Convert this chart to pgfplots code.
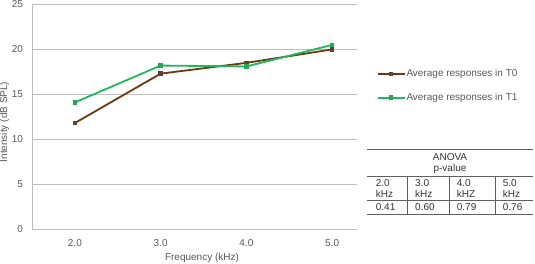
\documentclass[border=0pt]{standalone}
\usepackage{fontspec}
\setmainfont{Liberation Sans}
\usepackage{pgfplots}
\pgfplotsset{compat=1.18}
\definecolor{brownT}{HTML}{6B3A10}
\definecolor{brownM}{HTML}{5E4430}
\definecolor{greenT}{HTML}{1FB85C}
\definecolor{greenM}{HTML}{2AA35C}
\definecolor{gridc}{HTML}{BDBDBD}
\definecolor{txt}{HTML}{595959}
\definecolor{tabline}{HTML}{606060}
\begin{document}
\fontsize{10}{12}\selectfont
\begin{tikzpicture}
\path[use as bounding box] (0pt,0pt) rectangle (535pt,264pt);
\begin{axis}[
  at={(32pt,35pt)}, anchor=south west, scale only axis,
  width=325pt, height=224.5pt,
  xmin=-0.5, xmax=3.29, ymin=0, ymax=25,
  xtick={0,1,2,3}, xticklabels={2.0,3.0,4.0,5.0},
  ytick={0,5,10,15,20,25},
  ymajorgrids, grid style={gridc, line width=0.8pt},
  axis x line*=bottom, axis y line*=left,
  axis line style={gridc, line width=0.8pt},
  major tick length=0pt,
  /pgf/number format/assume math mode=true,
  ticklabel style={font=\fontsize{10}{12}\selectfont, text=txt},
  yticklabel style={xshift=-5.5pt},
  xticklabel style={yshift=-7pt},
  xlabel={Frequency (kHz)},
  xlabel style={at={(axis description cs:0.523,0)}, anchor=center, yshift=-29pt, font=\fontsize{10}{12}\selectfont, text=txt},
  legend cell align=left,
  legend style={draw=none, fill=none, inner sep=0pt, row sep=13pt,
    at={(axis description cs:1.060,0.715)}, anchor=north west,
    font=\fontsize{10}{12}\selectfont, text=txt,
    nodes={inner sep=1pt}},
  legend image code/.code={\draw[mark repeat=2,mark phase=2,#1] plot coordinates {(0pt,0pt) (13.5pt,0pt) (27pt,0pt)};},
]
\addplot[brownT, line width=1.8pt, mark=square*, mark size=1.8pt, mark options={fill=brownM, draw=brownM, line width=0pt}]
  coordinates {(0,11.8) (1,17.3) (2,18.5) (3,20.0)};
\addlegendentry{Average responses in T0}
\addplot[greenT, line width=1.8pt, mark=square*, mark size=1.8pt, mark options={fill=greenM, draw=greenM, line width=0pt}]
  coordinates {(0,14.1) (1,18.2) (2,18.1) (3,20.5)};
\addlegendentry{Average responses in T1}
\end{axis}
\node[rotate=90, anchor=base, text=txt, font=\fontsize{10}{12}\selectfont] at (7pt,142pt) {Intensity (dB SPL)};
% ANOVA table
\begin{scope}[tabline, line width=0.8pt]
\draw (367pt,114.7pt) -- (533pt,114.7pt);
\draw (367pt,88pt) -- (533pt,88pt);
\draw (367pt,63.3pt) -- (533pt,63.3pt);
\draw (367pt,49.7pt) -- (533pt,49.7pt);
\draw (407.7pt,88pt) -- (407.7pt,49.7pt);
\draw (449.3pt,88pt) -- (449.3pt,49.7pt);
\draw (495.7pt,88pt) -- (495.7pt,49.7pt);
\end{scope}
\begin{scope}[every node/.style={text=black!80, font=\fontsize{10}{12}\selectfont, inner sep=0pt}]
\node[anchor=base] at (450pt,103pt) {ANOVA};
\node[anchor=base] at (450pt,92.6pt) {p-value};
\node[anchor=base west] at (375.7pt,77.7pt) {2.0};
\node[anchor=base west] at (415pt,77.7pt) {3.0};
\node[anchor=base west] at (456.7pt,77.7pt) {4.0};
\node[anchor=base west] at (502.7pt,77.7pt) {5.0};
\node[anchor=base west] at (375.7pt,66.1pt) {kHz};
\node[anchor=base west] at (415pt,66.1pt) {kHz};
\node[anchor=base west] at (456.7pt,66.1pt) {kHZ};
\node[anchor=base west] at (502.7pt,66.1pt) {kHz};
\node[anchor=base west] at (375.7pt,53.1pt) {0.41};
\node[anchor=base west] at (415pt,53.1pt) {0.60};
\node[anchor=base west] at (456.7pt,53.1pt) {0.79};
\node[anchor=base west] at (502.7pt,53.1pt) {0.76};
\end{scope}
\end{tikzpicture}
\end{document}
